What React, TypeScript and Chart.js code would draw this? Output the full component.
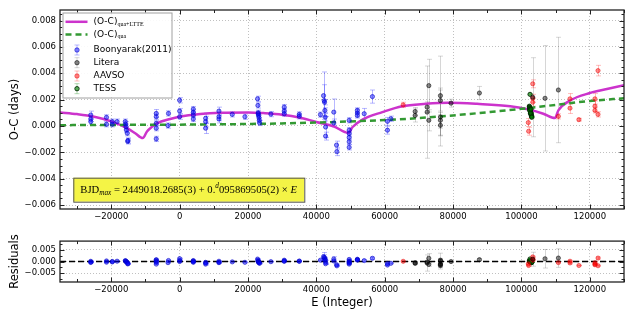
import React, { useEffect, useRef } from 'react';
import { Chart, registerables } from 'chart.js';
Chart.register(...registerables);

const FONT = 'DejaVu Sans';
const SERIF = 'Liberation Serif';

// ---- axes ----
const X_MIN = -35000;
const X_MAX = 130000;
const X_TICKS = [-20000, 0, 20000, 40000, 60000, 80000, 100000, 120000];
const Y_MIN = -0.0063;
const Y_MAX = 0.0088;
const Y_TICKS = [-0.006, -0.004, -0.002, 0, 0.002, 0.004, 0.006, 0.008];
const R_MIN = -0.0088;
const R_MAX = 0.0088;
const R_TICKS = [-0.005, 0, 0.005];

// ---- model curves ----
const LTTE_E = [-35000, -30000, -25000, -20000, -15400, -13000, -10800, -9550, -8000, -6640, -2770, 0, 6000, 12000, 20000, 25000, 30000, 35000, 40000, 45000, 49400, 50600, 53500, 59300, 65100, 72000, 78700, 87000, 96700, 102500, 106400, 109800, 110800, 114200, 120000, 125000, 130000];
const LTTE_OC = [0.00103, 0.0009, 0.0007, 0.00035, -0.00017, -0.00055, -0.00092, -0.00042, -0.00005, 0.0002, 0.00053, 0.0007, 0.0009, 0.001, 0.00103, 0.00097, 0.00086, 0.00065, 0.0003, -0.00002, -0.00053, -0.00008, 0.00048, 0.00105, 0.0015, 0.00168, 0.00176, 0.00168, 0.0015, 0.00123, 0.00093, 0.0006, 0.00118, 0.00193, 0.0025, 0.0028, 0.0031];
const QUA_E = [-35000, -20000, 0, 20000, 40000, 60000, 70000, 80000, 90000, 100000, 110000, 120000, 130000];
const QUA_OC = [0.00006, 0.00008, 0.0001, 0.00015, 0.00026, 0.00045, 0.0006, 0.0008, 0.00104, 0.0013, 0.0016, 0.0019, 0.0021];
const ZERO_E = [X_MIN, X_MAX];
const ZERO_V = [0, 0];

// ---- Boonyarak (2011) ----
const BOON_E = [
  -26000, -26000, -26000, -21400, -21400, -19700, -19700, -18300,
  -15900, -15800, -15700, -15600, -15300, -15200, -15100,
  -6840, -6840, -6840, -6840, -6840, -3260, -3400,
  0, 0, 0, 4000, 4000, 4000, 4000, 7600, 7600, 7600, 11500, 11500, 11500,
  15400, 19100, 22800, 22900, 23000, 23000, 23100, 23200, 23300, 23400,
  26700, 30600, 30600, 30600, 35000, 35000, 41200,
  42100, 42300, 42400, 42500, 42600, 42700, 42700, 45100, 45100, 45900, 46000,
  49600, 49600, 49600, 49600, 49600, 49600, 52000, 52000, 52000, 54000, 56400,
  60800, 60800, 61800];
const BOON_OC = [
  0.00083, 0.00053, 0.00033, 0.00065, 0.00013, 0.00033, 0.00013, 0.00033,
  0.00033, 0.00013, -0.00005, -0.0003, -0.00055, -0.00117, -0.0011,
  0.00095, 0.0007, 0.0002, -0.00017, -0.00098, 0.00095, 0.00003,
  0.00195, 0.00113, 0.0007, 0.00128, 0.00103, 0.00083, 0.00053, 0.00058, 0.00033, -0.00017, 0.00113, 0.0007, 0.00053,
  0.00088, 0.0007, 0.00206, 0.00156, 0.001, 0.00093, 0.0008, 0.00063, 0.00043, 0.00023,
  0.0009, 0.00143, 0.00113, 0.00093, 0.00088, 0.00073, 0.00086,
  0.0023, 0.00193, 0.0018, 0.00118, 0.00068, -0.00008, -0.00077, 0.00105, 0.00023, -0.00145, -0.00195,
  0.00043, -0.00032, -0.00057, -0.00087, -0.0012, -0.00162, 0.00118, 0.00098, 0.0008, 0.00093, 0.00223,
  0.00035, -0.00032, 0.00055];
const BOON_ERR = [
  0.0003, 0.0002, 0.0002, 0.0002, 0.0002, 0.0002, 0.0002, 0.0002,
  0.0002, 0.0002, 0.0002, 0.0002, 0.0002, 0.0002, 0.0002,
  0.0003, 0.0002, 0.0002, 0.0002, 0.0002, 0.0002, 0.0002,
  0.0002, 0.0002, 0.0002, 0.0002, 0.0002, 0.0002, 0.0002, 0.0004, 0.0004, 0.0004, 0.0003, 0.0003, 0.0003,
  0.0002, 0.0002, 0.0002, 0.0002, 0.0002, 0.0002, 0.0002, 0.0002, 0.0002, 0.0002,
  0.0002, 0.0002, 0.0002, 0.0002, 0.0002, 0.0002, 0.0002,
  0.0018, 0.0012, 0.0002, 0.0002, 0.0003, 0.0008, 0.0003, 0.001, 0.0003, 0.0003, 0.0003,
  0.0002, 0.0002, 0.0002, 0.0002, 0.0002, 0.0002, 0.0002, 0.0003, 0.0002, 0.0004, 0.0005,
  0.0003, 0.0003, 0.0002];
const BOON_RES = [
  0.0001, -0.0002, -0.0004, 0.00025, -0.00027, 0.00003, -0.00017, 0.00015,
  0.0004, 0.0002, 0.0001, -0.0002, -0.0004, -0.001, -0.0009,
  0.0008, 0.00055, 0.00005, -0.0003, -0.0011, 0.00045, -0.00047,
  0.00125, 0.00043, 0, 0.00043, 0.00018, -0.00002, -0.00032, -0.00035, -0.0006, -0.0011, 0.00013, -0.0003, -0.00047,
  -0.00014, -0.00033, 0.00106, 0.00056, 0, -0.00007, -0.0002, -0.00037, -0.00057, -0.00077,
  -0.00005, 0.00058, 0.00028, 0.00008, 0.00023, 0.00008, 0.0006,
  0.0021, 0.00175, 0.0016, 0.001, 0.0005, -0.00026, -0.00095, 0.0011, 0.00026, -0.00135, -0.00185,
  0.0009, 0.0002, -0.00007, -0.00037, -0.0007, -0.0011, 0.001, 0.0008, 0.0006, 0.0004, 0.0014,
  -0.00085, -0.0015, -0.00075];

// ---- Litera ----
const LIT_E = [68900, 68900, 72400, 72400, 72900, 72900, 76300, 76300, 76300, 76300, 76300, 79400, 87700, 103300, 106900, 110800];
const LIT_OC = [0.0011, 0.0008, 0.00143, 0.00105, 0.00306, 0.00043, 0.0023, 0.00193, 0.00068, 0.00043, 0.00005, 0.00173, 0.0025, 0.00218, 0.0021, 0.00273];
const LIT_ERR = [0.0003, 0.0005, 0.0004, 0.0035, 0.002, 0.0008, 0.003, 0.0008, 0.0022, 0.0006, 0.0008, 0.0003, 0.0005, 0.003, 0.004, 0.004];
const LIT_RES = [-0.0005, -0.0008, -0.00025, -0.00063, 0.0014, -0.00125, 0.0006, 0.0002, -0.001, -0.0013, -0.0017, 0, 0.0008, 0.001, 0.0012, 0.0015];

// ---- AAVSO ----
const AAVSO_E = [65400, 102000, 102100, 103300, 103300, 103300, 110800, 114200, 114200, 116800, 121500, 121500, 121500, 122400, 122400];
const AAVSO_OC = [0.0016, 0.00026, -0.0004, 0.0032, 0.0021, 0.0018, 0.00073, 0.00206, 0.00135, 0.00048, 0.00206, 0.0015, 0.00118, 0.0042, 0.00088];
const AAVSO_ERR = [0.0002, 0.0003, 0.0003, 0.0003, 0.0003, 0.0003, 0.0002, 0.0004, 0.0004, 0.0001, 0.0004, 0.0004, 0.0002, 0.0004, 0.0002];
const AAVSO_RES = [0.0001, -0.001, -0.0017, 0.002, 0.0009, 0.0006, -0.00045, 0.00013, -0.0006, -0.0017, -0.0005, -0.0011, -0.0014, 0.0015, -0.0018];

// ---- TESS ----
const TESS_E = [102300, 102350, 102400, 102450, 102500, 102550, 102600, 102650, 102700, 102750, 102800, 102850, 102900, 102950, 103000, 102400, 102600, 102800, 102500];
const TESS_OC = [0.0015, 0.00144, 0.00138, 0.00132, 0.00126, 0.0012, 0.00114, 0.00108, 0.00102, 0.00096, 0.0009, 0.00084, 0.00078, 0.00072, 0.00066, 0.00118, 0.00098, 0.00128, 0.0024];
const TESS_ERR = [0.00005, 0.00005, 0.00005, 0.00005, 0.00005, 0.00005, 0.00005, 0.00005, 0.00005, 0.00005, 0.00005, 0.00005, 0.00005, 0.00005, 0.00005, 0.00005, 0.00005, 0.00005, 0.00005];
const TESS_RES = [0.00025, 0.0002, 0.00015, 0.0001, 0.00005, 0, -0.00005, -0.0001, -0.00015, -0.0002, -0.00025, -0.0003, -0.00035, -0.0004, -0.00045, 0.0001, -0.0001, 0.0002, 0.0011];

const LEGEND_LABELS = ['Boonyarak(2011)', 'Litera', 'AAVSO', 'TESS'];

const STYLES = [
  { fill: 'rgba(0,0,255,0.45)', edge: 'rgba(0,0,200,0.6)', err: 'rgba(0,0,255,0.28)' },
  { fill: 'rgba(0,0,0,0.45)', edge: 'rgba(0,0,0,0.55)', err: 'rgba(0,0,0,0.16)' },
  { fill: 'rgba(255,0,0,0.45)', edge: 'rgba(230,0,0,0.5)', err: 'rgba(255,0,0,0.25)' },
  { fill: 'rgba(0,128,0,0.6)', edge: 'rgba(0,40,0,0.85)', err: 'rgba(0,128,0,0.3)' },
];

const pts = (xs: number[], ys: number[]) => xs.map((x, i) => ({ x, y: ys[i] }));
const fmtX = (v: number) => (v < 0 ? '\u2212' + Math.abs(v) : String(v));
const fmtY = (v: number) => (v < -1e-12 ? '\u2212' + Math.abs(v).toFixed(3) : Math.abs(v).toFixed(3));

type Part = { t: string; size: number; dy?: number; italic?: boolean; fam?: string };
function partsWidth(ctx: CanvasRenderingContext2D, parts: Part[], k = 1) {
  let w = 0;
  for (const p of parts) {
    ctx.font = `${p.italic ? 'italic ' : ''}${p.size * k}px "${p.fam || FONT}"`;
    w += ctx.measureText(p.t).width;
  }
  return w;
}
function drawParts(ctx: CanvasRenderingContext2D, x: number, y: number, parts: Part[], k = 1) {
  let cx = x;
  for (const p of parts) {
    ctx.font = `${p.italic ? 'italic ' : ''}${p.size * k}px "${p.fam || FONT}"`;
    ctx.fillText(p.t, cx, y + (p.dy || 0) * k);
    cx += ctx.measureText(p.t).width;
  }
}

const errorBarPlugin = {
  id: 'errbars',
  beforeDatasetsDraw(chart: any) {
    const { ctx, chartArea: a, scales } = chart;
    const xs = scales.x, ys = scales.y;
    ctx.save();
    ctx.beginPath();
    ctx.rect(a.left, a.top, a.right - a.left, a.bottom - a.top);
    ctx.clip();
    ctx.lineWidth = 1;
    chart.data.datasets.forEach((ds: any) => {
      if (!ds.errs) return;
      ctx.strokeStyle = ds.errColor;
      ds.data.forEach((p: any, j: number) => {
        const e = ds.errs[j];
        const px = Math.round(xs.getPixelForValue(p.x)) + 0.5;
        const y1 = ys.getPixelForValue(p.y + e);
        const y2 = ys.getPixelForValue(p.y - e);
        ctx.beginPath();
        ctx.moveTo(px, y1); ctx.lineTo(px, y2);
        ctx.moveTo(px - 2.5, y1); ctx.lineTo(px + 2.5, y1);
        ctx.moveTo(px - 2.5, y2); ctx.lineTo(px + 2.5, y2);
        ctx.stroke();
      });
    });
    ctx.restore();
  },
};

const framePlugin = {
  id: 'frame',
  afterDraw(chart: any, _args: any, opts: any) {
    const { ctx, chartArea: a, scales } = chart;
    const xs = scales.x, ys = scales.y;
    ctx.save();
    ctx.strokeStyle = '#222';
    ctx.lineWidth = 1;
    const tick = (px: number, len: number, vertical: boolean) => {
      ctx.beginPath();
      if (vertical) {
        ctx.moveTo(px, a.bottom); ctx.lineTo(px, a.bottom - len);
        ctx.moveTo(px, a.top); ctx.lineTo(px, a.top + len);
      } else {
        ctx.moveTo(a.left, px); ctx.lineTo(a.left + len, px);
        ctx.moveTo(a.right, px); ctx.lineTo(a.right - len, px);
      }
      ctx.stroke();
    };
    for (let v = -30000; v <= X_MAX; v += 10000) {
      const px = Math.round(xs.getPixelForValue(v)) + 0.5;
      tick(px, v % 20000 === 0 ? 4.5 : 3, true);
    }
    const step = opts.yMinor;
    const n0 = Math.ceil(ys.min / step), n1 = Math.floor(ys.max / step);
    for (let n = n0; n <= n1; n++) {
      const v = n * step;
      const py = Math.round(ys.getPixelForValue(v)) + 0.5;
      const major = Math.abs(v / opts.yMajor - Math.round(v / opts.yMajor)) < 1e-6;
      tick(py, major ? 4.5 : 2.5, false);
    }
    ctx.lineWidth = 1.3;
    ctx.strokeRect(a.left, a.top, a.right - a.left, a.bottom - a.top);
    ctx.restore();
  },
};

const legendPlugin = {
  id: 'ocLegend',
  afterDraw(chart: any) {
    const { ctx, chartArea: a } = chart;
    const L = a.left + 2.5, T = a.top + 2.5, W = 109, H = 85;
    ctx.save();
    ctx.fillStyle = 'rgba(255,255,255,0.9)';
    ctx.strokeStyle = '#a0a0a0';
    ctx.lineWidth = 1;
    ctx.fillRect(L, T, W, H);
    ctx.strokeRect(L + 0.5, T + 0.5, W, H);
    const rows = [9.3, 21.9, 37.5, 50.2, 63.5, 76.2];
    const tx = L + 31;
    ctx.textBaseline = 'middle';
    ctx.lineWidth = 2.5;
    ctx.strokeStyle = '#cc33cc';
    ctx.beginPath(); ctx.moveTo(L + 3, T + rows[0]); ctx.lineTo(L + 25, T + rows[0]); ctx.stroke();
    ctx.strokeStyle = '#339933';
    ctx.setLineDash([6, 4]);
    ctx.beginPath(); ctx.moveTo(L + 3, T + rows[1]); ctx.lineTo(L + 25, T + rows[1]); ctx.stroke();
    ctx.setLineDash([]);
    ctx.fillStyle = '#000';
    drawParts(ctx, tx, T + rows[0], [{ t: '(O-C)', size: 9 }, { t: 'qua+LTTE', size: 6, dy: 2.5, fam: SERIF }]);
    drawParts(ctx, tx, T + rows[1], [{ t: '(O-C)', size: 9 }, { t: 'qua', size: 6, dy: 2.5, fam: SERIF }]);
    LEGEND_LABELS.forEach((lab, i) => {
      const y = T + rows[i + 2];
      const cx = L + 14;
      const s = STYLES[i];
      ctx.strokeStyle = s.err;
      ctx.lineWidth = 1;
      ctx.beginPath();
      ctx.moveTo(cx + 0.5, y - 5); ctx.lineTo(cx + 0.5, y + 5);
      ctx.moveTo(cx - 2, y - 5); ctx.lineTo(cx + 3, y - 5);
      ctx.moveTo(cx - 2, y + 5); ctx.lineTo(cx + 3, y + 5);
      ctx.stroke();
      ctx.beginPath();
      ctx.arc(cx + 0.5, y, 2.2, 0, Math.PI * 2);
      ctx.fillStyle = s.fill; ctx.fill();
      ctx.strokeStyle = s.edge; ctx.stroke();
      ctx.fillStyle = '#000';
      drawParts(ctx, tx, y, [{ t: lab, size: 9 }]);
    });
    ctx.restore();
  },
};

const ephemPlugin = {
  id: 'ephem',
  afterDraw(chart: any) {
    const { ctx, chartArea: a } = chart;
    const L = a.left + 13.3, T = a.top + 167.7, W = 231, H = 24;
    ctx.save();
    ctx.fillStyle = '#f4f446';
    ctx.strokeStyle = '#555';
    ctx.lineWidth = 1;
    ctx.fillRect(L, T, W, H);
    ctx.strokeRect(L + 0.5, T + 0.5, W, H);
    const parts: Part[] = [
      { t: 'BJD', size: 11, fam: SERIF },
      { t: 'max', size: 7.5, dy: 2.5, italic: true, fam: SERIF },
      { t: ' = 2449018.2685(3) + 0.', size: 11, fam: SERIF },
      { t: 'd', size: 7.5, dy: -4, italic: true, fam: SERIF },
      { t: '095869505(2) \u00d7 ', size: 11, fam: SERIF },
      { t: 'E', size: 11, italic: true, fam: SERIF },
    ];
    const target = 217;
    const w0 = partsWidth(ctx, parts, 1);
    const k = target / w0;
    ctx.fillStyle = '#000';
    ctx.textBaseline = 'middle';
    drawParts(ctx, L + (W - target) / 2, T + H / 2 + 0.5, parts, k);
    ctx.restore();
  },
};

const tickFont = { family: FONT, size: 8.5 };
const titleFont = { family: FONT, size: 11.5 };

function xScale(height: number, withTitle: boolean) {
  return {
    type: 'linear',
    min: X_MIN,
    max: X_MAX,
    afterBuildTicks: (s: any) => { s.ticks = X_TICKS.map((v) => ({ value: v })); },
    afterFit: (s: any) => { s.height = height; },
    grid: { color: '#b0b0b0', lineWidth: 0.8, drawTicks: false },
    border: { display: false, dash: [1, 2] },
    ticks: { font: tickFont, color: '#000', padding: 3, maxRotation: 0, autoSkip: false, callback: (v: any) => fmtX(Number(v)) },
    title: withTitle
      ? { display: true, text: 'E (Integer)', font: titleFont, color: '#000', padding: { top: 0, bottom: 7 } }
      : { display: false },
  };
}
function yScale(min: number, max: number, ticks: number[], title: string) {
  return {
    type: 'linear',
    min,
    max,
    afterBuildTicks: (s: any) => { s.ticks = ticks.map((v) => ({ value: v })); },
    afterFit: (s: any) => { s.width = 60; },
    grid: { color: '#b0b0b0', lineWidth: 0.8, drawTicks: false },
    border: { display: false, dash: [1, 2] },
    ticks: { font: tickFont, color: '#000', padding: 4, callback: (v: any) => fmtY(Number(v)) },
    title: { display: true, text: title, font: titleFont, color: '#000', padding: { top: 8, bottom: 0 } },
  };
}

function pointSets(res: boolean) {
  const sets = [
    [BOON_E, BOON_OC, BOON_ERR, BOON_RES],
    [LIT_E, LIT_OC, LIT_ERR, LIT_RES],
    [AAVSO_E, AAVSO_OC, AAVSO_ERR, AAVSO_RES],
    [TESS_E, TESS_OC, TESS_ERR, TESS_RES],
  ];
  return sets.map(([e, oc, err, r], i) => ({
    type: 'scatter',
    label: LEGEND_LABELS[i],
    data: pts(e, res ? r : oc),
    errs: err,
    errColor: STYLES[i].err,
    backgroundColor: STYLES[i].fill,
    borderColor: STYLES[i].edge,
    borderWidth: 1,
    pointRadius: 2.1,
    order: 1,
  }));
}

export default function App() {
  const mainRef = useRef<HTMLCanvasElement>(null);
  const resRef = useRef<HTMLCanvasElement>(null);
  useEffect(() => {
    document.body.style.margin = '0';
    const common = {
      responsive: false,
      animation: false,
      devicePixelRatio: 1,
      plugins: { legend: { display: false }, tooltip: { enabled: false } },
      events: [],
    };
    const main = new Chart(mainRef.current as HTMLCanvasElement, {
      type: 'scatter',
      data: {
        datasets: [
          {
            type: 'line', label: 'LTTE', data: pts(LTTE_E, LTTE_OC), borderColor: '#cc33cc', borderWidth: 2.5,
            pointRadius: 0, cubicInterpolationMode: 'monotone', fill: false, order: 5,
          },
          {
            type: 'line', label: 'qua', data: pts(QUA_E, QUA_OC), borderColor: '#339933', borderWidth: 2.5,
            borderDash: [6, 4], pointRadius: 0, cubicInterpolationMode: 'monotone', fill: false, order: 4,
          },
          ...pointSets(false),
        ] as any,
      },
      options: {
        ...common,
        layout: { padding: { top: 10, right: 10, left: 0, bottom: 0 } },
        scales: {
          x: xScale(23, false),
          y: yScale(Y_MIN, Y_MAX, Y_TICKS, 'O-C (days)'),
        },
        plugins: { ...common.plugins, frame: { yMajor: 0.002, yMinor: 0.0005 } },
      } as any,
      plugins: [errorBarPlugin, framePlugin, legendPlugin, ephemPlugin],
    });
    const res = new Chart(resRef.current as HTMLCanvasElement, {
      type: 'scatter',
      data: {
        datasets: [
          {
            type: 'line', label: 'zero', data: pts(ZERO_E, ZERO_V), borderColor: '#000', borderWidth: 1.5,
            borderDash: [6, 3], pointRadius: 0, fill: false, order: 5,
          },
          ...pointSets(true),
        ] as any,
      },
      options: {
        ...common,
        layout: { padding: { top: 8, right: 10, left: 0, bottom: 0 } },
        scales: {
          x: xScale(35, true),
          y: yScale(R_MIN, R_MAX, R_TICKS, 'Residuals'),
        },
        plugins: { ...common.plugins, frame: { yMajor: 0.005, yMinor: 0.0025 } },
      } as any,
      plugins: [errorBarPlugin, framePlugin],
    });
    return () => {
      main.destroy();
      res.destroy();
    };
  }, []);
  return (
    <div style={{ position: 'relative', width: 634, height: 317, background: '#fff' }}>
      <canvas ref={mainRef} width={634} height={232} style={{ position: 'absolute', left: 0, top: 0, width: 634, height: 232 }} />
      <canvas ref={resRef} width={634} height={85} style={{ position: 'absolute', left: 0, top: 232, width: 634, height: 85 }} />
    </div>
  );
}
